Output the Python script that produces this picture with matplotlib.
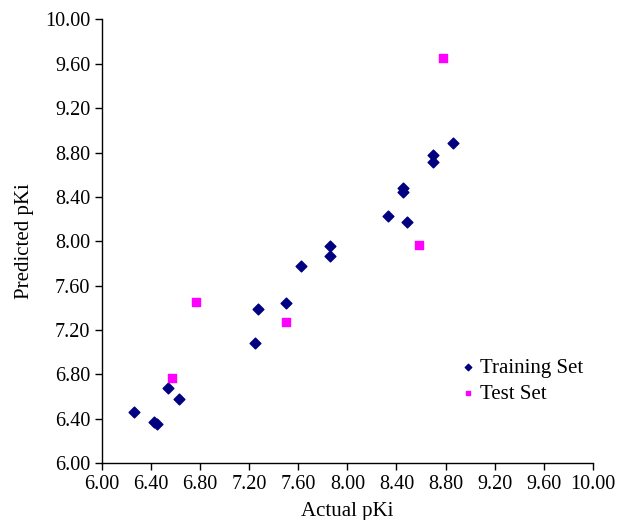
import matplotlib

matplotlib.use("Agg")

import matplotlib.pyplot as plt

plt.rcParams["font.family"] = ["Liberation Serif", "DejaVu Serif"]

train_actual = [6.26, 6.42, 6.45, 6.54, 6.63, 7.25, 7.27, 7.50, 7.62, 7.86,
                7.86, 8.33, 8.45, 8.45, 8.49, 8.70, 8.70, 8.86]
train_pred = [6.46, 6.37, 6.35, 6.68, 6.58, 7.08, 7.39, 7.44, 7.78, 7.87,
              7.96, 8.23, 8.48, 8.44, 8.17, 8.78, 8.71, 8.89]

test_actual = [6.57, 6.77, 7.50, 8.58, 8.78]
test_pred = [6.77, 7.45, 7.27, 7.97, 9.65]

ticks = [6.00, 6.40, 6.80, 7.20, 7.60, 8.00, 8.40, 8.80, 9.20, 9.60, 10.00]

fig = plt.figure(figsize=(6.2, 5.2), dpi=100)
ax = fig.add_axes([0.1645, 0.1096, 0.7915, 0.853])

ax.scatter(train_actual, train_pred, marker="D", s=30, color="#000080",
           label="Training Set", zorder=3)
ax.scatter(test_actual, test_pred, marker="s", s=30, color="#FF00FF",
           label="Test Set", zorder=3)

ax.set_xlim(6.0, 10.0)
ax.set_ylim(6.0, 10.0)
ax.set_xticks(ticks)
ax.set_yticks(ticks)
ax.set_xticklabels([f"{t:.2f}" for t in ticks])
ax.set_yticklabels([f"{t:.2f}" for t in ticks])
ax.tick_params(labelsize=14.5, direction="out", length=5, width=1, colors="black")
for side in ("top", "right"):
    ax.spines[side].set_visible(False)
for side in ("left", "bottom"):
    ax.spines[side].set_linewidth(1)

ax.set_xlabel("Actual pKi", fontsize=15, labelpad=6)
ax.set_ylabel("Predicted pKi", fontsize=15, labelpad=8)

leg = fig.legend(loc="upper left", bbox_to_anchor=(0.729, 0.331), frameon=False,
                 fontsize=15, handlelength=0.5, handletextpad=0.35,
                 labelspacing=0.3, markerscale=0.6, borderpad=0)

fig.savefig("out.png", dpi=100)
